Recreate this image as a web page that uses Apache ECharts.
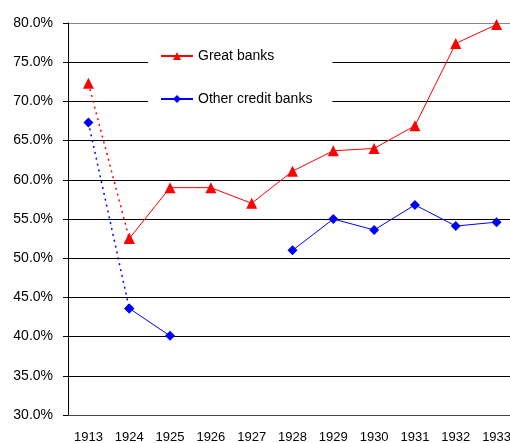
<!DOCTYPE html>
<html><head><meta charset="utf-8">
<script src="https://cdn.jsdelivr.net/npm/echarts@6/dist/echarts.min.js"></script>
<style>html,body{margin:0;padding:0;background:#fff}#c{width:510px;height:443px}</style>
</head><body><div id="c"></div>
<script>
const years = ['1913','1924','1925','1926','1927','1928','1929','1930','1931','1932','1933'];
const greatBanks = [72.3, 52.5, 59.0, 59.0, 57.0, 61.1, 63.7, 64.0, 66.9, 77.4, 79.8];
const otherBanks = [67.3, 43.6, 40.1, null, null, 51.0, 55.0, 53.6, 56.8, 54.1, 54.6];
const yTicks = {min: 30, max: 80, step: 5};

function solidPart(arr){ return arr.map((v,i)=> i===0 || v===null ? '-' : v); }
function dottedPart(arr){ return arr.map((v,i)=> i<=1 ? v : '-'); }

const font = 'Liberation Sans, Arial, sans-serif';
const chart = echarts.init(document.getElementById('c'), null, {renderer:'canvas'});
chart.setOption({
  animation:false,
  backgroundColor:'#fff',
  grid:{left:68, top:23, width:449, height:392, containLabel:false, outerBoundsMode:'none'},
  xAxis:{type:'category', data:years, boundaryGap:true,
    axisLine:{lineStyle:{color:'#444', width:1}},
    axisTick:{length:5, lineStyle:{color:'#000'}},
    axisLabel:{color:'#000', fontSize:13, fontFamily:font, margin:16}
  },
  yAxis:{type:'value', min:yTicks.min, max:yTicks.max, interval:yTicks.step,
    axisLine:{show:true, lineStyle:{color:'#000', width:1}},
    axisTick:{show:true, length:5, lineStyle:{color:'#000'}},
    axisLabel:{color:'#000', fontSize:14, fontFamily:font, margin:15,
      formatter:v=>v.toFixed(1)+'%'},
    splitLine:{show:true, lineStyle:{color:['#000','#000','#000','#000','#000','#000','#000','#000','#000','#000','#888'], width:1}}
  },
  legend:{orient:'vertical', left:148, top:33, itemWidth:32, itemHeight:10, itemGap:29,
    padding:[16,20,14,12], backgroundColor:'#fff',
    textStyle:{color:'#000', fontSize:14, fontFamily:font},
    data:['Great banks','Other credit banks']},
  series:[
    {name:'Great banks', type:'line', data:solidPart(greatBanks), symbol:'triangle', symbolSize:11,
      itemStyle:{color:'#ff0000'}, lineStyle:{color:'#ff0000', width:1}, connectNulls:false, z:3},
    {name:'Great banks', type:'line', data:dottedPart(greatBanks), symbol:'triangle', symbolSize:11,
      itemStyle:{color:'#ff0000'}, lineStyle:{color:'#ff0000', width:1.5, type:[2,4]}, z:3},
    {name:'Other credit banks', type:'line', data:solidPart(otherBanks), symbol:'diamond', symbolSize:10,
      itemStyle:{color:'#0000ff'}, lineStyle:{color:'#0000ff', width:1}, connectNulls:false, z:3},
    {name:'Other credit banks', type:'line', data:dottedPart(otherBanks), symbol:'diamond', symbolSize:10,
      itemStyle:{color:'#0000ff'}, lineStyle:{color:'#0000ff', width:1.5, type:[2,4]}, z:3}
  ]
});
</script></body></html>
